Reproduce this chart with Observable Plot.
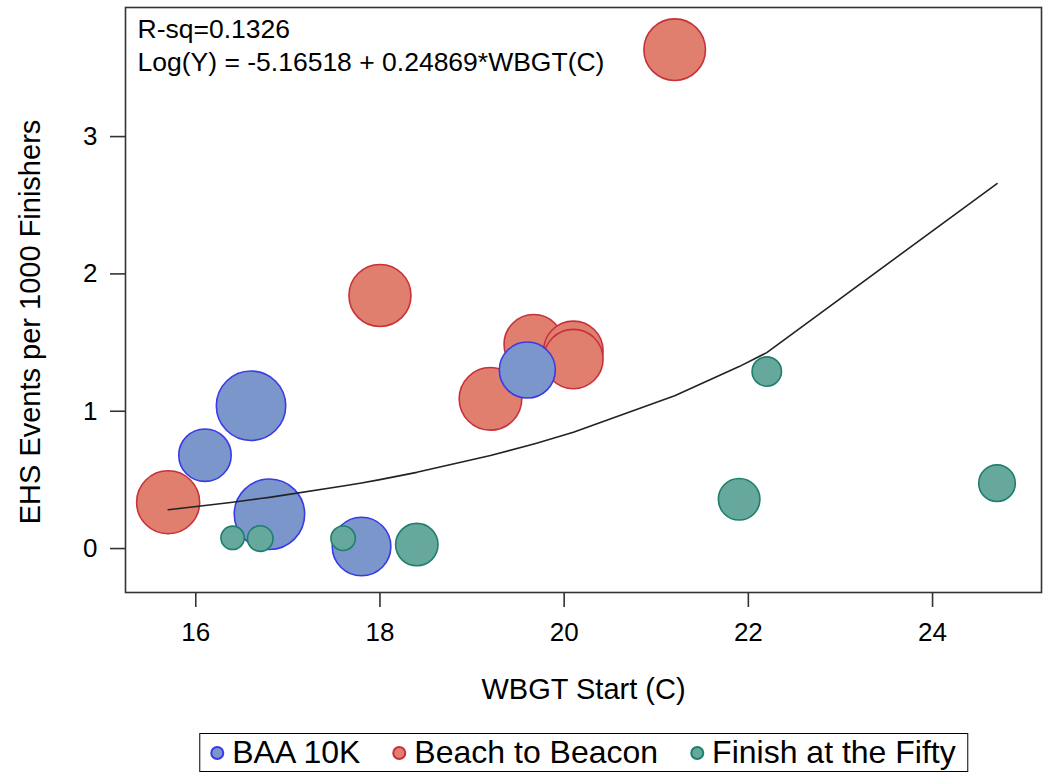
<!DOCTYPE html>
<html>
<head>
<meta charset="utf-8">
<script src="https://cdn.jsdelivr.net/npm/d3@7"></script>
<script src="https://cdn.jsdelivr.net/npm/@observablehq/plot@0.6"></script>
<style>
  html, body { margin: 0; padding: 0; background: #fff; }
  body { width: 1050px; height: 783px; overflow: hidden; font-family: "Liberation Sans", Arial, sans-serif; }
  #legend { position: absolute; top: 733px; left: 584px; transform: translateX(-50%);
    border: 1px solid #000; display: flex; align-items: center; white-space: nowrap;
    font-size: 32px; color: #000; padding: 0 12px 0 10px; height: 39px; box-sizing: border-box; }
  .item { display: flex; align-items: center; margin-right: 32px; }
  .item:last-child { margin-right: 0; }
  .sw { width: 14px; height: 14px; border-radius: 50%; border: 2px solid; margin-right: 8px; box-sizing: border-box; }
</style>
</head>
<body>
<div id="chart"></div>
<div id="legend"></div>
<script>
// Series names
const seriesNames = ["BAA 10K", "Beach to Beacon", "Finish at the Fifty"];

// BAA 10K
const baaX = [16.1, 16.6, 16.8, 17.8, 19.6];
const baaY = [0.68, 1.04, 0.25, 0.015, 1.30];
const baaSize = [26.2, 34.7, 35.2, 29.3, 28.0];

// Beach to Beacon
const b2bX = [15.7, 18.0, 19.2, 19.67, 20.1, 20.1, 21.2];
const b2bY = [0.337, 1.843, 1.09, 1.488, 1.44, 1.38, 3.633];
const b2bSize = [31.5, 31.0, 31.3, 29.7, 29.7, 29.7, 30.8];

// Finish at the Fifty
const fifX = [16.4, 16.7, 17.6, 18.4, 21.9, 22.2, 24.7];
const fifY = [0.078, 0.073, 0.075, 0.029, 0.359, 1.289, 0.476];
const fifSize = [11.7, 12.8, 12.2, 21.2, 20.8, 14.7, 18.3];

// Fitted curve values
const fitX = [15.7, 16.1, 16.4, 16.6, 16.7, 16.8, 17.6, 17.8, 18.0, 18.4, 19.2, 19.6, 19.7, 20.1, 21.2, 21.9, 22.2, 24.7];
const fitY = [0.283, 0.313, 0.337, 0.355, 0.364, 0.373, 0.455, 0.478, 0.502, 0.555, 0.677, 0.748, 0.767, 0.847, 1.113, 1.325, 1.427, 2.658];

// Ticks and texts
const xTicks = [16, 18, 20, 22, 24];
const yTicks = [0, 1, 2, 3];
const xLabel = "WBGT Start (C)";
const yLabel = "EHS Events per 1000 Finishers";
const annot = ["R-sq=0.1326", "Log(Y) = -5.16518 + 0.24869*WBGT(C)"];

const fills = ["#7B96CB", "#E07F6E", "#66A89C"];
const strokes = ["#3A3AE6", "#C8303C", "#1E7F6E"];

const mk = (xs, ys, ss, g) => xs.map((x, i) => ({x, y: ys[i], s: ss[i], g}));
const baa = mk(baaX, baaY, baaSize, seriesNames[0]);
const b2b = mk(b2bX, b2bY, b2bSize, seriesNames[1]);
const fif = mk(fifX, fifY, fifSize, seriesNames[2]);
const fit = fitX.map((x, i) => ({x, y: fitY[i]}));

const allS = [...baaSize, ...b2bSize, ...fifSize];

const chart = Plot.plot({
  width: 1050,
  height: 728,
  marginLeft: 125,
  marginRight: 9,
  marginTop: 7,
  marginBottom: 136,
  style: {fontFamily: "Liberation Sans, Arial, sans-serif", background: "#fff"},
  x: {domain: [15.237, 25.183], label: null},
  y: {domain: [-0.32, 3.94], label: null},
  r: {type: "linear", domain: [d3.min(allS), d3.max(allS)], range: [d3.min(allS), d3.max(allS)]},
  marks: [
    Plot.dot(b2b, {x: "x", y: "y", r: "s", fill: fills[1], stroke: strokes[1], strokeWidth: 1.6}),
    Plot.dot(baa, {x: "x", y: "y", r: "s", fill: fills[0], stroke: strokes[0], strokeWidth: 1.6}),
    Plot.dot(fif, {x: "x", y: "y", r: "s", fill: fills[2], stroke: strokes[2], strokeWidth: 1.6}),
    Plot.line(fit, {x: "x", y: "y", stroke: "#222", strokeWidth: 1.6}),
    Plot.frame({stroke: "#333", strokeWidth: 1.6}),
    Plot.axisX({ticks: xTicks, tickFormat: "d", tickSize: 15, tickPadding: 15, fontSize: 26, stroke: "#333", strokeWidth: 1.6, label: null}),
    Plot.axisY({ticks: yTicks, tickFormat: "d", tickSize: 15, tickPadding: 13, fontSize: 26, stroke: "#333", strokeWidth: 1.6, label: null}),
    Plot.text([annot.join("\n")], {frameAnchor: "top-left", dx: 12, dy: 8, fontSize: 26.5, lineHeight: 1.22, textAnchor: "start", fill: "#000"}),
    Plot.text([xLabel], {frameAnchor: "bottom", dy: 106, fontSize: 29, fill: "#000"}),
    Plot.text([yLabel], {frameAnchor: "left", dx: -95, dy: 22, rotate: -90, textAnchor: "middle", fontSize: 29, fill: "#000"})
  ]
});
chart.querySelectorAll("text").forEach(t => t.setAttribute("fill", "#000"));
document.getElementById("chart").appendChild(chart);

const leg = document.getElementById("legend");
seriesNames.forEach((n, i) => {
  const it = document.createElement("div");
  it.className = "item";
  const sw = document.createElement("div");
  sw.className = "sw";
  sw.style.background = fills[i];
  sw.style.borderColor = strokes[i];
  const tx = document.createElement("span");
  tx.textContent = n;
  it.appendChild(sw); it.appendChild(tx);
  leg.appendChild(it);
});
</script>
</body>
</html>
